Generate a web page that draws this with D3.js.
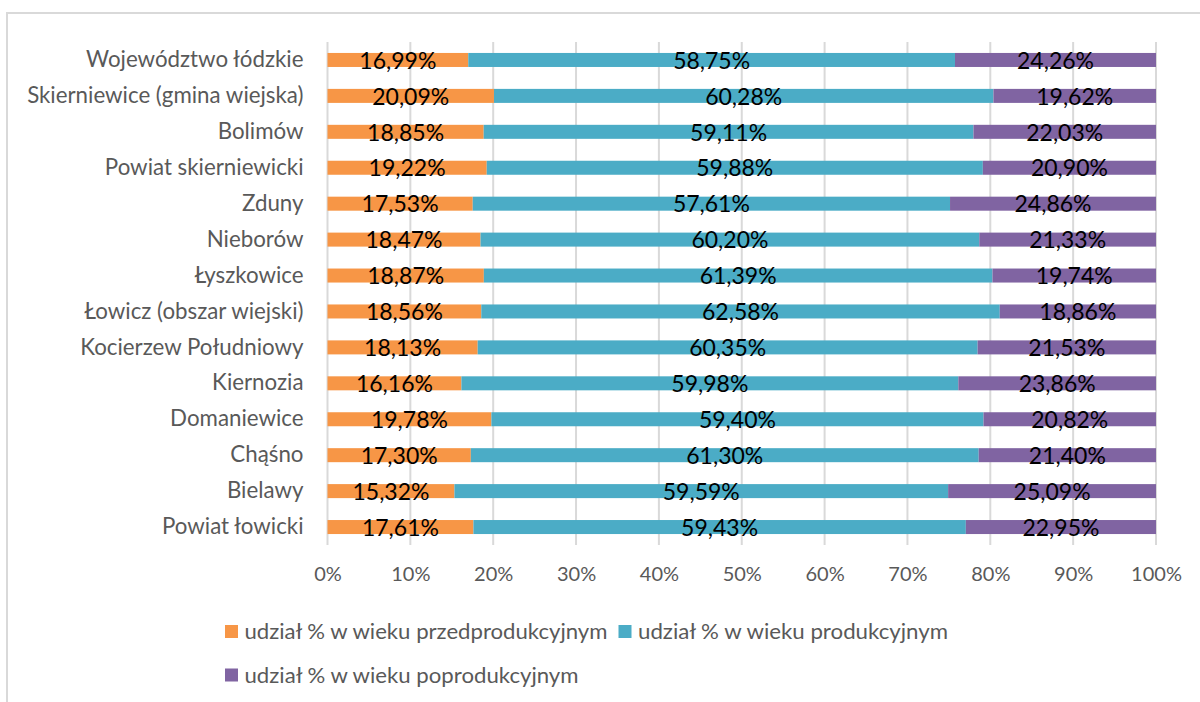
<!DOCTYPE html>
<html>
<head>
<meta charset="utf-8">
<script src="https://cdn.jsdelivr.net/npm/d3@7"></script>
<style>
  html, body { margin: 0; padding: 0; background: #fff; }
  svg { display: block; font-family: Lato, "Open Sans", sans-serif; }
</style>
</head>
<body>
<svg id="chart" width="1200" height="702"></svg>
<script>
(function () {
  "use strict";

  const categories = [
    "Województwo łódzkie", "Skierniewice (gmina wiejska)", "Bolimów", "Powiat skierniewicki",
    "Zduny", "Nieborów", "Łyszkowice", "Łowicz (obszar wiejski)", "Kocierzew Południowy",
    "Kiernozia", "Domaniewice", "Chąśno", "Bielawy", "Powiat łowicki"
  ];
  const przed = [16.99, 20.09, 18.85, 19.22, 17.53, 18.47, 18.87, 18.56, 18.13, 16.16, 19.78, 17.30, 15.32, 17.61];
  const prod  = [58.75, 60.28, 59.11, 59.88, 57.61, 60.20, 61.39, 62.58, 60.35, 59.98, 59.40, 61.30, 59.59, 59.43];
  const popr  = [24.26, 19.62, 22.03, 20.90, 24.86, 21.33, 19.74, 18.86, 21.53, 23.86, 20.82, 21.40, 25.09, 22.95];
  const seriesNames = [
    "udział % w wieku przedprodukcyjnym",
    "udział % w wieku produkcyjnym",
    "udział % w wieku poprodukcyjnym"
  ];
  const COLORS = ["#F79646", "#4BACC6", "#8064A2"];
  const xTicks = [0, 0.1, 0.2, 0.3, 0.4, 0.5, 0.6, 0.7, 0.8, 0.9, 1];

  const svg = d3.select("#chart");
  const m = { l: 327.5, r: 1156, t: 42, b: 545 };

  // outer frame
  svg.append("rect").attr("x", 7).attr("y", 13).attr("width", 1300).attr("height", 800)
    .attr("fill", "none").attr("stroke", "#d9d9d9").attr("stroke-width", 2);

  const x = d3.scaleLinear().domain([0, 1]).range([m.l, m.r]);
  const y = d3.scaleBand().domain(categories).range([m.t, m.b]).paddingInner(0.61).paddingOuter(0.305);

  // gridlines
  svg.append("g").selectAll("line").data(xTicks).enter().append("line")
    .attr("x1", (d) => x(d)).attr("x2", (d) => x(d))
    .attr("y1", m.t).attr("y2", m.b)
    .attr("stroke", "#d9d9d9").attr("stroke-width", 2);

  // x tick labels
  const xAxis = svg.append("g").attr("transform", `translate(0,${m.b})`)
    .call(d3.axisBottom(x).tickValues(xTicks).tickFormat((d) => Math.round(d * 100) + "%").tickSize(0).tickPadding(22));
  xAxis.select(".domain").remove();
  xAxis.selectAll("text").attr("fill", "#595959").attr("font-size", 20).attr("font-family", "Lato, sans-serif");

  // category labels
  const yAxis = svg.append("g").attr("transform", `translate(${m.l},0)`)
    .call(d3.axisLeft(y).tickSize(0).tickPadding(24));
  yAxis.select(".domain").remove();
  yAxis.selectAll("text").attr("fill", "#595959").attr("font-size", 22.3).attr("font-family", "Lato, sans-serif");

  // stacked data
  const rows = categories.map((c, i) => ({ cat: c, vals: [przed[i], prod[i], popr[i]] }));
  const segs = [];
  rows.forEach((r) => {
    const tot = r.vals[0] + r.vals[1] + r.vals[2];
    let acc = 0;
    r.vals.forEach((v, k) => {
      segs.push({ cat: r.cat, k, v, x0: acc / tot, x1: (acc + v) / tot });
      acc += v;
    });
  });

  svg.append("g").selectAll("rect").data(segs).enter().append("rect")
    .attr("x", (d) => x(d.x0)).attr("width", (d) => x(d.x1) - x(d.x0))
    .attr("y", (d) => y(d.cat)).attr("height", y.bandwidth())
    .attr("fill", (d) => COLORS[d.k]);

  svg.append("g").selectAll("text").data(segs).enter().append("text")
    .attr("x", (d) => (x(d.x0) + x(d.x1)) / 2)
    .attr("y", (d) => y(d.cat) + y.bandwidth() / 2)
    .attr("dy", "0.38em").attr("text-anchor", "middle")
    .attr("font-size", 23).attr("fill", "#000")
    .text((d) => d.v.toFixed(2).replace(".", ",") + "%");

  // legend (text fitted to the reference widths)
  const legendPos = [[225, 631.5], [618.5, 631.5], [225, 675]];
  const legendW = [363, 310, 334];
  const lg = svg.append("g").selectAll("g").data(seriesNames).enter().append("g")
    .attr("transform", (d, i) => `translate(${legendPos[i][0]},${legendPos[i][1]})`);
  lg.append("rect").attr("x", 0).attr("y", -6.5).attr("width", 13).attr("height", 13)
    .attr("fill", (d, i) => COLORS[i]);
  lg.append("text").attr("x", 19.5).attr("dy", "0.36em").attr("font-size", 21.5)
    .attr("textLength", (d, i) => legendW[i]).attr("lengthAdjust", "spacingAndGlyphs")
    .attr("fill", "#595959").text((d) => d);
})();
</script>
</body>
</html>
